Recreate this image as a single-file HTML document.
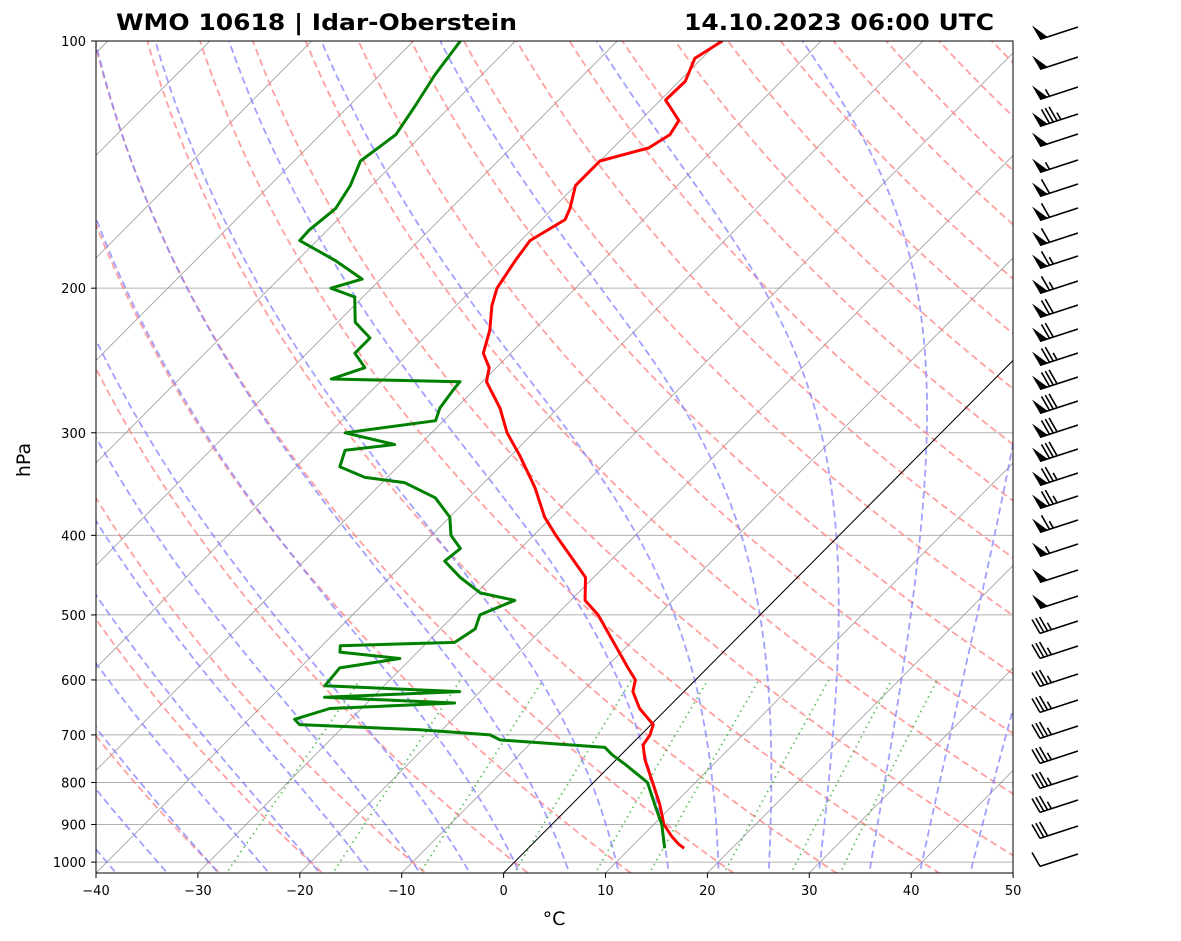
<!DOCTYPE html>
<html><head><meta charset="utf-8"><style>
body{margin:0;background:#fff;}
svg{display:block;font-family:"DejaVu Sans","Liberation Sans",sans-serif;}
</style></head><body>
<svg id="chart" width="1181" height="941" xmlns="http://www.w3.org/2000/svg">
<defs><clipPath id="clip"><rect x="96" y="41" width="917" height="832"/></clipPath></defs>
<rect x="0" y="0" width="1181" height="941" fill="#fff"/>
<g id="bg" clip-path="url(#clip)"></g>
<g id="series" clip-path="url(#clip)"></g>
<rect x="96" y="41" width="917" height="832" fill="none" stroke="#000" stroke-width="1"/>
<g id="axes"></g>
<g id="barbs"></g>
<text x="116" y="30" font-size="22" font-weight="bold" textLength="401" lengthAdjust="spacingAndGlyphs">WMO 10618 | Idar-Oberstein</text>
<text x="684" y="30" font-size="22" font-weight="bold" textLength="310" lengthAdjust="spacingAndGlyphs">14.10.2023 06:00 UTC</text>
<text x="30" y="460" font-size="19" text-anchor="middle" transform="rotate(-90 30 460)">hPa</text>
<text x="554" y="925" font-size="19" text-anchor="middle">°C</text>
</svg>
<script>
const tempP=[962,950,930,900,850,800,750,720,700,680,650,620,600,580,550,500,480,450,420,400,380,350,320,300,280,260,250,240,225,210,200,185,175,165,160,150,140,135,130,125,118,112,105,100];
const tempT=[15.3,14.3,12.9,11.0,8.6,5.8,2.8,1.2,0.9,0.2,-2.7,-5.0,-5.9,-7.8,-10.7,-15.9,-18.6,-20.8,-24.9,-27.8,-30.7,-34.5,-39.1,-42.6,-45.7,-49.6,-50.7,-52.7,-54.3,-56.5,-57.7,-58.6,-59.1,-57.7,-58.3,-60.0,-60.0,-56.5,-55.7,-56.2,-59.5,-59.4,-60.7,-59.7];
const dewP=[962,900,850,800,760,740,725,710,700,690,680,670,650,640,630,620,610,600,580,565,555,545,540,520,500,480,470,450,430,415,400,380,360,345,340,330,315,310,300,290,280,265,260,258,250,240,230,220,205,200,195,185,175,170,160,150,140,130,120,110,100];
const dewT=[13.4,10.8,8.1,5.3,1.3,-0.9,-2.3,-13.3,-14.8,-22.2,-34.5,-35.5,-33.1,-21.4,-34.7,-22.0,-35.8,-35.9,-36.1,-31.1,-37.6,-38.2,-27.3,-26.6,-27.5,-25.5,-29.6,-33.1,-36.2,-35.9,-38.1,-40.0,-43.3,-47.8,-52.2,-55.7,-56.8,-52.5,-58.5,-50.8,-51.6,-52.1,-52.2,-65.1,-62.9,-65.3,-65.3,-68.3,-70.8,-74.0,-71.8,-76.3,-81.7,-81.8,-81.3,-82.1,-83.5,-82.6,-83.5,-84.6,-85.4];
const xTicks=[-40,-30,-20,-10,0,10,20,30,40,50];
const pTicks=[100,200,300,400,500,600,700,800,900,1000];
const barbSpeeds=[50,50,55,85,50,55,60,60,60,65,65,70,70,75,80,80,80,80,75,75,65,55,50,50,35,35,35,35,35,35,35,35,30,10];
const barbY=[33,63,93,120,140,166,190,214,239,262,287,311,335,359,383,407,431,455,479,502,526,550,576,602,627,652,680,706,732,757,782,806,832,860];

const NS='http://www.w3.org/2000/svg';
const Y=p=>41+356.6*Math.log(p/100);
const X=(T,p)=>96+(T+40)*10.19+(873-Y(p))*0.994;
function mk(tag,attrs,parent){const e=document.createElementNS(NS,tag);for(const k in attrs)e.setAttribute(k,attrs[k]);parent.appendChild(e);return e;}
const bg=document.getElementById('bg'),ser=document.getElementById('series'),ax=document.getElementById('axes'),bb=document.getElementById('barbs');
function pline(pts,attrs,parent,name){const d=pts.map((q,i)=>(i?'L':'M')+X(q[0],q[1]).toFixed(1)+' '+Y(q[1]).toFixed(1)).join(' ');const e=mk('path',Object.assign({d:d,fill:'none'},attrs),parent);


return e;}
const plevs=[];for(let p=1050;p>=95;p-=5)plevs.push(p);
pTicks.forEach(p=>{const e=mk('line',{x1:96,x2:1013,y1:Y(p),y2:Y(p),stroke:'#b0b0b0','stroke-width':1},bg);

});
for(let t=-120;t<=50;t+=10){pline([[t,1050],[t,95]],{stroke:'#808080','stroke-width':0.8,'stroke-opacity':0.8},bg,'isotherm');}
for(let t=-30;t<=200;t+=10){const th=t+273.15;pline(plevs.map(p=>[th*Math.pow(p/1000,0.2857)-273.15,p]),{stroke:'#ff8080','stroke-opacity':0.75,'stroke-width':1.8,'stroke-dasharray':'7,4'},bg,'dry-adiabat');}
function es(T){return 6.112*Math.exp(17.67*T/(T+243.5));}
function dTdp(T,p){const Tk=T+273.15,e=es(T),rs=0.622*e/(p-e),Lv=2.501e6,Rd=287.04,Cp=1005.7;
return (Rd*Tk+Lv*rs)/(Cp+Lv*Lv*rs*0.622/(Rd*Tk*Tk))/p;}
function moist(t0){const up=[],dn=[];let T=t0;for(let p=1000;p>=95;p-=1){if(p%5==0)up.push([T,p]);T-=dTdp(T,p)*1;}
T=t0;for(let p=1000;p<=1050;p+=1){if(p%5==0)dn.push([T,p]);T+=dTdp(T,p)*1;}return dn.reverse().concat(up.slice(1));}
for(let t=-40;t<=50;t+=5){pline(moist(t),{stroke:'#8080ff','stroke-opacity':0.75,'stroke-width':1.8,'stroke-dasharray':'7,4'},bg,'moist-adiabat');}
[0.0004,0.001,0.002,0.004,0.007,0.01,0.016,0.024,0.032].forEach(w=>{const pts=[];for(let p=1050;p>=600;p-=10){const e=p*w/(0.622+w),l=Math.log(e/6.112);pts.push([243.5*l/(17.67-l),p]);}
pline(pts,{stroke:'#33aa33','stroke-opacity':0.75,'stroke-width':1.8,'stroke-dasharray':'1.5,4'},bg,'mixing-ratio-line');});
pline([[0,1050],[0,95]],{stroke:'#000','stroke-width':1},bg,'zero-isotherm');
pline(tempP.map((p,i)=>[tempT[i],p]),{stroke:'#ff0000','stroke-width':3,'stroke-linejoin':'round'},ser,'temperature-line');
pline(dewP.map((p,i)=>[dewT[i],p]),{stroke:'#008000','stroke-width':3,'stroke-linejoin':'round'},ser,'dewpoint-line');
xTicks.forEach(t=>{const x=96+(t+40)*10.19;const l=mk('line',{x1:x,x2:x,y1:873,y2:878,stroke:'#000'},ax);


const tx=mk('text',{x:x,y:895,'font-size':13,'text-anchor':'middle'},ax);tx.textContent=(t<0?'\u2212'+(-t):t);

});
pTicks.forEach(p=>{const y=Y(p);const l=mk('line',{x1:91,x2:96,y1:y,y2:y,stroke:'#000'},ax);


const tx=mk('text',{x:86,y:y+5,'font-size':13,'text-anchor':'end'},ax);tx.textContent=p;

});
barbSpeeds.forEach((s,i)=>{const tx=1078,ty=barbY[i]-6;const L=40,dx=-0.95,dy=0.31;
const g=mk('g',{},bb);


const ex=tx+dx*L,ey=ty+dy*L;mk('line',{x1:tx,y1:ty,x2:ex,y2:ey,stroke:'#000','stroke-width':1.6},g);
let rem=Math.round(s/5)*5,pos=0;const ux=-0.5,uy=-0.87;
while(rem>=50){const ax0=ex+(-dx)*pos,ay0=ey+(-dy)*pos;const bx=ax0+(-dx)*8,by=ay0+(-dy)*8;
mk('polygon',{points:`${ax0},${ay0} ${bx},${by} ${ax0+ux*16},${ay0+uy*16}`,fill:'#000'},g);pos+=10;rem-=50;}
while(rem>=10){const ax0=ex+(-dx)*pos,ay0=ey+(-dy)*pos;mk('line',{x1:ax0,y1:ay0,x2:ax0+ux*16,y2:ay0+uy*16,stroke:'#000','stroke-width':1.6},g);pos+=4;rem-=10;}
if(rem>=5){const pp=pos?pos:5;const ax0=ex+(-dx)*pp,ay0=ey+(-dy)*pp;mk('line',{x1:ax0,y1:ay0,x2:ax0+ux*8,y2:ay0+uy*8,stroke:'#000','stroke-width':1.6},g);}
});
</script>
</body></html>
